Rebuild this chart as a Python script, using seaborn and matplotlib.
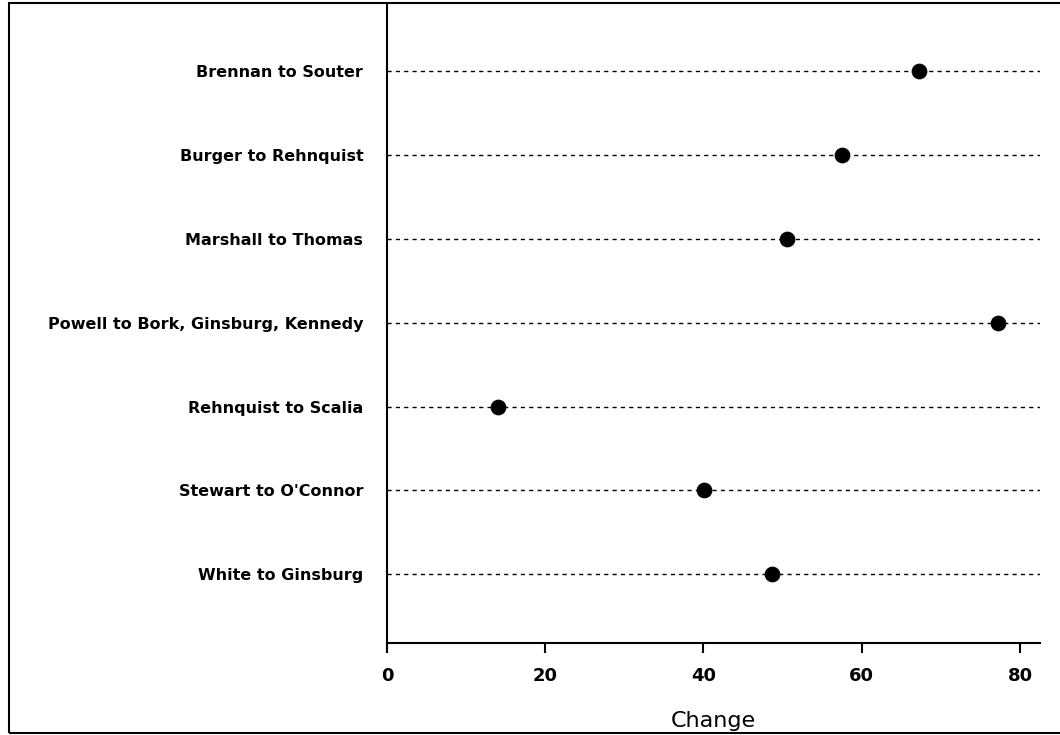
import matplotlib
matplotlib.use("Agg")
import matplotlib.pyplot as plt
import seaborn as sns
import pandas as pd
from matplotlib.patches import Rectangle

replacements = ["Brennan to Souter", "Burger to Rehnquist", "Marshall to Thomas",
                "Powell to Bork, Ginsburg, Kennedy", "Rehnquist to Scalia",
                "Stewart to O'Connor", "White to Ginsburg"]
change = [67.2, 57.5, 50.5, 77.2, 14.0, 40.1, 48.7]
x_ticks = [0, 20, 40, 60, 80]

df = pd.DataFrame({"replacement": replacements, "change": change})

sns.set_style("white")
plt.rcParams["font.family"] = ["DejaVu Sans"]
plt.rcParams["text.color"] = "black"
plt.rcParams["axes.labelcolor"] = "black"
plt.rcParams["xtick.color"] = "black"
plt.rcParams["ytick.color"] = "black"

fig = plt.figure(figsize=(10.6, 7.35), dpi=100)
ax = fig.add_axes([0.365, 0.125, 0.616, 0.871])

ax.grid(axis="y", linestyle=(0, (3, 3)), color="black", linewidth=1)
ax.set_axisbelow(True)
sns.scatterplot(data=df, x="change", y="replacement", color="black",
                s=110, edgecolor="black", zorder=3, ax=ax)

ax.set_xlim(0, 82.5)
ax.set_ylim(len(replacements) - 0.18, -0.81)
ax.set_xticks(x_ticks)
ax.set_xlabel("Change", fontsize=16, labelpad=19)
ax.set_ylabel("")

for side in ["top", "right"]:
    ax.spines[side].set_visible(False)
for side in ["left", "bottom"]:
    ax.spines[side].set_color("black")
    ax.spines[side].set_linewidth(1.5)

ax.tick_params(axis="x", bottom=True, direction="out", length=7, width=1.5,
               color="black", labelsize=13, pad=10)
ax.tick_params(axis="y", left=False, length=0, labelsize=11.5, pad=17)
for lbl in ax.get_yticklabels() + ax.get_xticklabels():
    lbl.set_fontweight("bold")

# outer frame of the figure
fig.patches.append(Rectangle((9 / 1060, 2 / 735), 1.1, 1 - 5 / 735,
                             transform=fig.transFigure, fill=False,
                             edgecolor="black", linewidth=1.5))

fig.savefig("out.png", dpi=100)
